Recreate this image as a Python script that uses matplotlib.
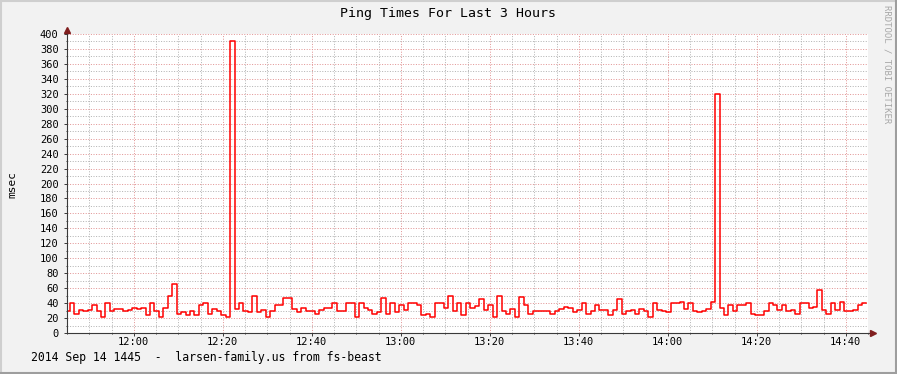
import numpy as np
import pandas as pd
import matplotlib
matplotlib.use('Agg')
import matplotlib.pyplot as plt
import matplotlib.dates as mdates
from matplotlib.lines import Line2D

# ping times in msec, one sample per minute (rrd step 60s)
ping = [30, 40, 25, 31, 29, 31, 38, 29, 22, 40,
        29, 32, 32, 29, 31, 34, 32, 34, 24, 40,
        29, 22, 33, 50, 65, 26, 28, 24, 29, 24,
        38, 40, 25, 32, 29, 24, 22, 390, 32, 40,
        29, 28, 50, 28, 31, 22, 29, 37, 38, 47,
        47, 32, 28, 34, 29, 29, 25, 31, 33, 34,
        40, 29, 29, 40, 40, 22, 40, 34, 31, 25,
        28, 47, 26, 40, 28, 37, 31, 40, 40, 37,
        24, 25, 22, 40, 40, 34, 49, 29, 40, 24,
        40, 34, 36, 45, 31, 38, 21, 49, 29, 26,
        32, 22, 48, 38, 26, 29, 29, 29, 29, 26,
        29, 32, 35, 34, 28, 31, 40, 26, 29, 37,
        31, 31, 24, 31, 46, 25, 29, 31, 26, 32,
        29, 21, 40, 31, 29, 28, 40, 40, 41, 32,
        40, 29, 28, 29, 32, 41, 320, 34, 24, 37,
        29, 38, 38, 40, 25, 24, 24, 29, 40, 38,
        31, 37, 29, 31, 25, 40, 40, 33, 35, 58,
        31, 25, 40, 31, 41, 29, 29, 31, 38, 40]

first_sample = '2014-09-14 11:44:39'
window_start = '2014-09-14 11:45:00'
window_end = '2014-09-14 14:45:00'

title = 'Ping Times For Last 3 Hours'
ylabel = 'msec'
footer = '2014 Sep 14 1445  -  larsen-family.us from fs-beast'
watermark = 'RRDTOOL / TOBI OETIKER'

BACK = '#f2f2f2'
GRID = '#b4b4b4'
MGRID = '#e29696'
ARROW = '#801f1f'
AXIS = '#3a3a3a'

plt.rcParams['font.family'] = 'DejaVu Sans Mono'

times = pd.Timestamp(first_sample) + pd.to_timedelta(np.arange(len(ping) + 1), unit='min')
vals = ping + [ping[-1]]

fig = plt.figure(figsize=(8.97, 3.74), dpi=100, facecolor=BACK)
W, H = 897, 374
ax = fig.add_axes([67 / W, 1 - 333 / H, 801 / W, 299 / H])
ax.set_facecolor('white')

ax.step(times, vals, where='post', color='#ff0000', lw=1.1, zorder=3)

ax.set_xlim(pd.Timestamp(window_start), pd.Timestamp(window_end))
ax.set_ylim(0, 400)

ax.xaxis.set_major_locator(mdates.MinuteLocator(byminute=[0, 20, 40]))
ax.xaxis.set_minor_locator(mdates.MinuteLocator(byminute=range(0, 60, 5)))
ax.xaxis.set_major_formatter(mdates.DateFormatter('%H:%M'))
ax.set_yticks(np.arange(0, 401, 20))
ax.set_yticks(np.arange(0, 401, 10), minor=True)

ax.grid(which='minor', color=GRID, lw=0.72, ls=(0, (1, 1.6)))
ax.grid(which='major', color=MGRID, lw=0.72, ls=(0, (1, 1.6)))
ax.set_axisbelow(True)

for s in ['top', 'right']:
    ax.spines[s].set_visible(False)
for s in ['left', 'bottom']:
    ax.spines[s].set_color(AXIS)
    ax.spines[s].set_linewidth(0.8)
    ax.spines[s].set_zorder(4)

ax.tick_params(which='both', length=2, width=0.7, color=AXIS, direction='out',
               labelsize=7.5, pad=4)
ax.tick_params(which='minor', length=1)
ax.tick_params(axis='x', pad=1)

# axis arrows
ax.plot([0, 0], [1, 1.015], transform=ax.transAxes, color=AXIS, lw=0.8, clip_on=False)
ax.plot([0], [1.015], marker='^', ms=4.5, color=ARROW, transform=ax.transAxes, clip_on=False)
ax.plot([1, 1.006], [0, 0], transform=ax.transAxes, color=AXIS, lw=0.8, clip_on=False)
ax.plot([1.006], [0], marker='>', ms=4.5, color=ARROW, transform=ax.transAxes, clip_on=False)

fig.text(448 / W, 1 - 14 / H, title, ha='center', va='center', fontsize=9.5)
fig.text(12 / W, 1 - 185 / H, ylabel, rotation=90, ha='center', va='center', fontsize=8)
fig.text(31 / W, 1 - 358 / H, footer, ha='left', va='center', fontsize=8.3)
fig.text(887 / W, 1 - 5 / H, watermark, rotation=270, ha='center', va='top',
         fontsize=6.5, color='#a8a8a8')

# 3d style border
fig.add_artist(Line2D([0, 1], [1 - 1 / H, 1 - 1 / H], transform=fig.transFigure, color='#cfcfcf', lw=1.5))
fig.add_artist(Line2D([1 / W, 1 / W], [0, 1], transform=fig.transFigure, color='#cfcfcf', lw=1.5))
fig.add_artist(Line2D([0, 1], [1 / H, 1 / H], transform=fig.transFigure, color='#9e9e9e', lw=1.5))
fig.add_artist(Line2D([1 - 1 / W, 1 - 1 / W], [0, 1], transform=fig.transFigure, color='#9e9e9e', lw=1.5))

fig.savefig('out.png', dpi=100, facecolor=BACK)
